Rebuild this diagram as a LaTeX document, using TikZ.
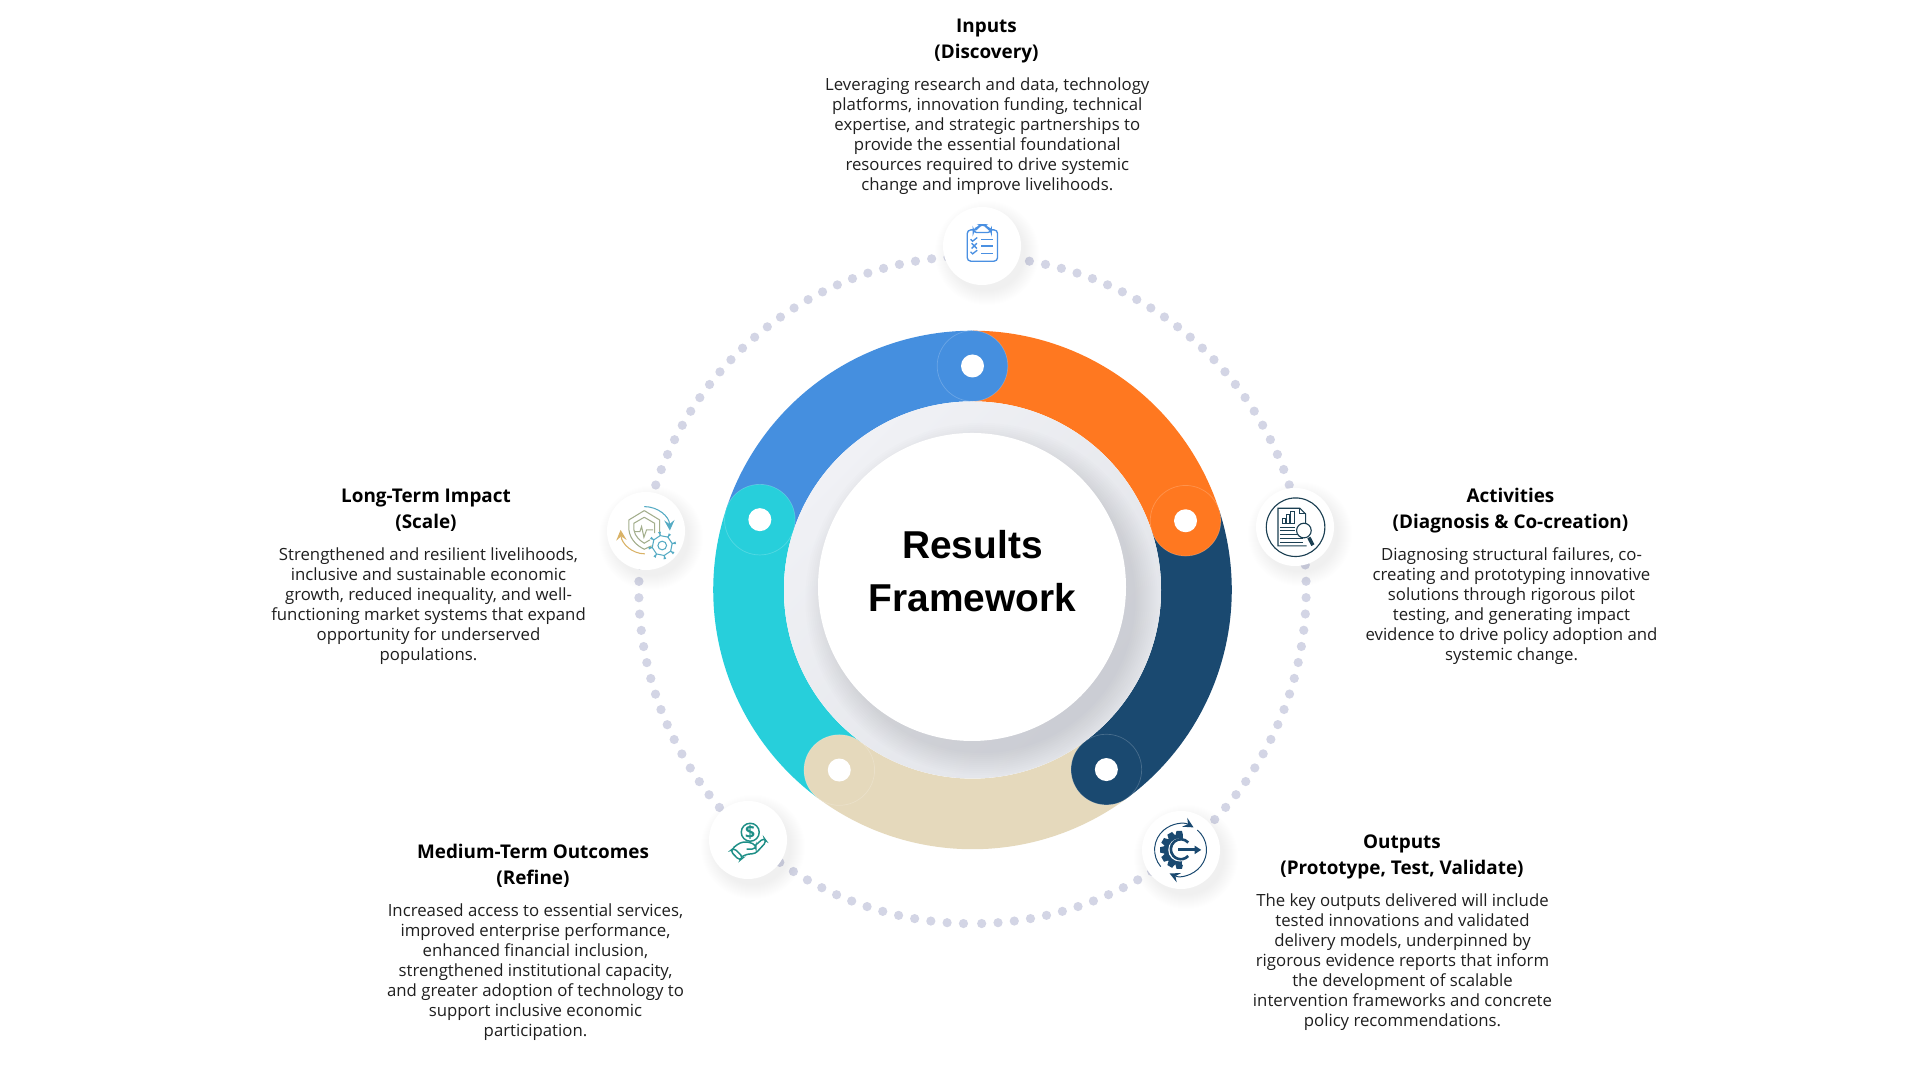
\documentclass[tikz,border=0pt]{standalone}
\usepackage{fontspec}
\setmainfont{Open Sans}
\newfontfamily\titlefont{Liberation Sans}
\definecolor{RFBlue}{HTML}{458FDF}
\definecolor{RFOrange}{HTML}{FF7820}
\definecolor{RFNavy}{HTML}{1A4970}
\definecolor{RFTan}{HTML}{E5D9BC}
\definecolor{RFCyan}{HTML}{27CFDB}
\definecolor{RFDot}{HTML}{D3D5E5}
\definecolor{RFCollarA}{HTML}{F0F1F5}
\definecolor{RFCollarB}{HTML}{E2E4E9}
\definecolor{RFShade}{HTML}{8C8E98}
\definecolor{RFInk}{HTML}{1B3F52}
\definecolor{RFTeal}{HTML}{1E8F87}
\definecolor{RFClip}{HTML}{4A90E2}
\definecolor{RFShield}{HTML}{A3AE8C}
\definecolor{RFCog}{HTML}{55ABC4}
\definecolor{RFAmber}{HTML}{D9B266}
\tikzset{
  headtext/.style={align=center,inner sep=0pt,font=\fontsize{5.37}{7.4}\selectfont\bfseries},
  bodytext/.style={align=center,inner sep=0pt,font=\fontsize{4.77}{5.69}\selectfont,text=black!88},
  icondisc/.style={circle,fill=white,minimum size=.78cm,inner sep=0pt},
  zoomcrop/.style={shift={(#1)},x=.003333cm,y=-.003333cm,line width=.38pt},
}
\begin{document}
\begin{tikzpicture}[x=.01cm,y=.01cm]
\path[use as bounding box] (0,0) rectangle (1920,1080);
\fill[white] (0,0) rectangle (1920,1080);
% dotted orbit
\begin{scope}[shift={(972.5,490)}]
\foreach \k in {0,...,127} \fill[RFDot] (-88.425+\k*2.81:333.7) circle (4.6);
\end{scope}
% ring
\begin{scope}[shift={(972.5,490)}]
\foreach \a/\b/\c in {162/90/RFBlue,90/18/RFOrange,18/-53.3/RFNavy,-53.3/-126.5/RFTan,-126.5/-198/RFCyan}
  \draw[\c,line width=20.06pt] (\a:224) arc[start angle=\a,end angle=\b,radius=224];
\foreach \b/\c in {90/RFBlue,18/RFOrange,-53.3/RFNavy,-126.5/RFTan,161.7/RFCyan}{
  \fill[\c] (\b:224) circle (35.3);
  \draw[white,draw opacity=.2,line width=.2pt] (\b:224) circle (35.3);
  \fill[white] (\b:224) circle (11.5);
}
% grey collar and centre
\shade[top color=RFCollarA,bottom color=RFCollarB,shading angle=45] (0,0) circle (188.5);
\begin{scope}
\clip (0,0) circle (188.5);
\foreach \r in {154,156,...,176} \fill[RFShade,opacity=.016] (9,-9) circle (\r);
\end{scope}
\fill[white] (-.5,3) circle (154);
\end{scope}
\node[align=center,inner sep=0pt,font=\titlefont\fontsize{11.05}{15}\selectfont\bfseries] (centretitle) at (972.5,509) {Results\\Framework};
% icon discs
\foreach \cx/\cy in {982/834,1295/553,1181/230,748/240,646/549}
  \foreach \r in {38,39,...,52} \fill[RFShade,opacity=.009] (\cx+5,\cy-7) circle (\r);
\node[icondisc] (inputsdisc) at (982,834) {};
\node[icondisc] (activitiesdisc) at (1295,553) {};
\node[icondisc] (outputsdisc) at (1181,230) {};
\node[icondisc] (mediumdisc) at (748,240) {};
\node[icondisc] (longdisc) at (646,549) {};
% clipboard
\begin{scope}[zoomcrop={920,890},RFClip,rounded corners=1pt]
\draw (160,120) -- (142,120) -- (142,214) -- (233,214) -- (233,120) -- (214,120);
\draw (160,128) -- (160,118) -- (175,113) -- (180,105) -- (196,105) -- (201,113) -- (214,118) -- (214,128) -- cycle;
\draw[sharp corners] (152,148) -- (158,154) -- (172,143);
\draw[sharp corners] (155,160) -- (171,176) (171,160) -- (155,176);
\draw[sharp corners] (152,186) -- (158,192) -- (172,181);
\draw (184,148) -- (218,148) (184,168) -- (218,168) (184,190) -- (218,190);
\end{scope}
% report and magnifier
\begin{scope}[zoomcrop={1240,610},RFInk,line width=.32pt]
\draw (167,172) circle (88);
\draw (197,160) -- (197,132) -- (180,115) -- (114,115) -- (114,228) -- (200,228);
\draw (180,115) -- (180,132) -- (197,132);
\draw (127,160) rectangle (137,145) (140,160) rectangle (150,135) (153,160) rectangle (165,126);
\draw (120,172) -- (165,172) (120,182) -- (165,182) (120,195) -- (175,195) (120,205) -- (190,205) (120,218) -- (190,218);
\draw[line width=1pt] (207,203) -- (219,226);
\draw[fill=white] (192,182) circle (22);
\end{scope}
% gear and arrow
\begin{scope}[zoomcrop={1120,290},RFNavy]
\draw[-stealth,line width=.28pt] (140:78)++(182,180) arc[start angle=140,end angle=300,radius=78];
\draw[-stealth,line width=.28pt] (-50:78)++(182,180) arc[start angle=-50,end angle=115,radius=78];
\begin{scope}
\clip (100,100) rectangle (205,260);
\fill[shift={(178,180)}] (80:46) \foreach \a in {90,120,...,270} {-- (\a-14:46) -- (\a-8:58) -- (\a+8:58) -- (\a+14:46)} -- cycle;
\end{scope}
\fill[white] (180,180) circle (35);
\draw[line width=.75pt] (205,158) arc[start angle=-42,end angle=-318,radius=30];
\draw[line width=.9pt] (175,180) -- (226,180);
\fill (224,167) -- (244,180) -- (224,193) -- cycle;
\end{scope}
% hand and coin
\begin{scope}[zoomcrop={690,290},RFTeal,line width=.42pt,rounded corners=1pt]
\draw (181,127) circle (27);
\node[inner sep=0pt,font=\fontsize{5}{5}\selectfont\bfseries] (coinsign) at (181,127) {\$};
\draw (121,183) -- (132,174) -- (160,203) -- (149,212) -- cycle;
\draw (131,173) -- (150,158) -- (172,155) -- (198,165) -- (198,177) -- (170,178);
\draw (157,200) -- (172,192) -- (196,192) -- (230,155) -- (222,144) -- (198,165);
\end{scope}
% shield, gear and arrows
\begin{scope}[zoomcrop={590,600},line width=.3pt]
\draw[RFShield] (163,92) -- (117,120) -- (117,150) .. controls (120,180) and (145,200) .. (163,208) -- (185,198);
\draw[RFShield] (163,92) -- (209,120) -- (209,160);
\draw[RFShield] (163,112) -- (132,130) -- (132,150) .. controls (135,170) and (150,182) .. (163,190) -- (180,180);
\draw[RFShield] (163,112) -- (194,130) -- (194,160);
\draw[RFShield] (135,155) -- (150,155) -- (155,140) -- (162,172) -- (170,150) -- (190,150);
\draw[RFCog,-stealth] (163,80) .. controls (205,80) and (238,110) .. (240,152);
\draw[RFAmber,-stealth] (165,222) .. controls (125,222) and (95,190) .. (92,150);
\begin{scope}[shift={(217,197)},RFCog]
\draw[fill=white] (-14:40) \foreach \a in {0,45,...,315} {-- (\a-14:40) -- (\a-9:30) -- (\a+9+22.5:30) -- (\a+14+22.5:40)} -- cycle;
\draw (0,0) circle (13);
\end{scope}
\end{scope}
% texts
\node[headtext] (inputshead) at (986.5,1038.5) {Inputs\\(Discovery)};
\node[bodytext] (inputsbody) at (987.3,944) {Leveraging research and data, technology\\platforms, innovation funding, technical\\expertise, and strategic partnerships to\\provide the essential foundational\\resources required to drive systemic\\change and improve livelihoods.};
\node[headtext] (activitieshead) at (1510.5,569) {Activities\\(Diagnosis \& Co-creation)};
\node[bodytext] (activitiesbody) at (1511.5,474) {Diagnosing structural failures, co-\\creating and prototyping innovative\\solutions through rigorous pilot\\testing, and generating impact\\evidence to drive policy adoption and\\systemic change.};
\node[headtext] (outputshead) at (1402,223.5) {Outputs\\(Prototype, Test, Validate)};
\node[bodytext] (outputsbody) at (1402.5,117.5) {The key outputs delivered will include\\tested innovations and validated\\delivery models, underpinned by\\rigorous evidence reports that inform\\the development of scalable\\intervention frameworks and concrete\\policy recommendations.};
\node[headtext] (mediumhead) at (533,214.5) {Medium-Term Outcomes\\(Refine)};
\node[bodytext] (mediumbody) at (535.5,107.5) {Increased access to essential services,\\improved enterprise performance,\\enhanced financial inclusion,\\strengthened institutional capacity,\\and greater adoption of technology to\\support inclusive economic\\participation.};
\node[headtext] (longhead) at (426,570) {Long-Term Impact\\(Scale)};
\node[bodytext] (longbody) at (428.5,474) {Strengthened and resilient livelihoods,\\inclusive and sustainable economic\\growth, reduced inequality, and well-\\functioning market systems that expand\\opportunity for underserved\\populations.};
\end{tikzpicture}
\end{document}
